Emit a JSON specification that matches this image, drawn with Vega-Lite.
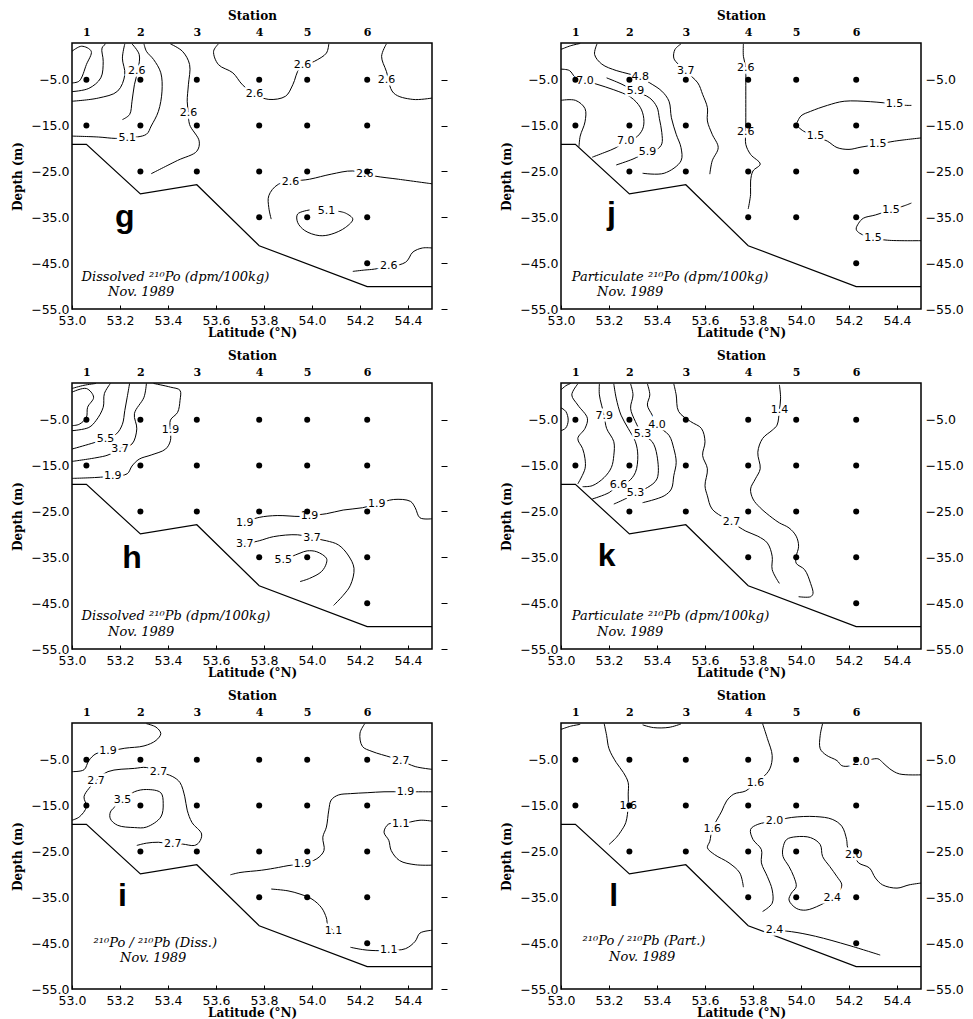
{
"$schema": "https://vega.github.io/schema/vega-lite/v6.json",
"background": "white",
"padding": {"left": 10, "top": 8, "right": 2, "bottom": 2},
"columns": 2,
"spacing": {"row": 74, "column": 129},
"bounds": "flush",
"datasets": {
"stations": [
{"lat":53.06,"depth":-5},{"lat":53.06,"depth":-15},
{"lat":53.285,"depth":-5},{"lat":53.285,"depth":-15},{"lat":53.285,"depth":-25},
{"lat":53.52,"depth":-5},{"lat":53.52,"depth":-15},{"lat":53.52,"depth":-25},
{"lat":53.78,"depth":-5},{"lat":53.78,"depth":-15},{"lat":53.78,"depth":-25},{"lat":53.78,"depth":-35},
{"lat":53.98,"depth":-5},{"lat":53.98,"depth":-15},{"lat":53.98,"depth":-25},{"lat":53.98,"depth":-35},
{"lat":54.23,"depth":-5},{"lat":54.23,"depth":-15},{"lat":54.23,"depth":-25},{"lat":54.23,"depth":-35},{"lat":54.23,"depth":-45}
],
"bottom": [
{"i":0,"lat":53.0,"depth":-19.1},{"i":1,"lat":53.06,"depth":-19.1},{"i":2,"lat":53.285,"depth":-29.9},{"i":3,"lat":53.52,"depth":-27.9},{"i":4,"lat":53.78,"depth":-41.2},{"i":5,"lat":54.23,"depth":-50.1},{"i":6,"lat":54.5,"depth":-50.1}
],
"contours": [
{"panel":"g","id":"g1","i":0,"lat":53.0,"depth":1.2},{"panel":"g","id":"g1","i":1,"lat":53.04,"depth":2.3},{"panel":"g","id":"g1","i":2,"lat":53.08,"depth":1.2},{"panel":"g","id":"g1","i":3,"lat":53.06,"depth":-1.7},{"panel":"g","id":"g1","i":4,"lat":53.03,"depth":-5.3},{"panel":"g","id":"g1","i":5,"lat":53.0,"depth":-5.7},
{"panel":"g","id":"g2","i":0,"lat":53.0,"depth":-7.6},{"panel":"g","id":"g2","i":1,"lat":53.07,"depth":-6.9},{"panel":"g","id":"g2","i":2,"lat":53.12,"depth":-4.6},{"panel":"g","id":"g2","i":3,"lat":53.13,"depth":-1.0},{"panel":"g","id":"g2","i":4,"lat":53.125,"depth":1.9},{"panel":"g","id":"g2","i":5,"lat":53.14,"depth":2.8},
{"panel":"g","id":"g3","i":0,"lat":53.0,"depth":-9.7},{"panel":"g","id":"g3","i":1,"lat":53.11,"depth":-9.0},{"panel":"g","id":"g3","i":2,"lat":53.19,"depth":-7.5},{"panel":"g","id":"g3","i":3,"lat":53.22,"depth":-3.9},{"panel":"g","id":"g3","i":4,"lat":53.21,"depth":-0.3},{"panel":"g","id":"g3","i":5,"lat":53.22,"depth":2.8},
{"panel":"g","id":"g4","i":0,"lat":53.25,"depth":2.8},{"panel":"g","id":"g4","i":1,"lat":53.28,"depth":0.5},{"panel":"g","id":"g4","i":2,"lat":53.275,"depth":-2.8},{"panel":"g","id":"g4","i":3,"lat":53.26,"depth":-6.1},{"panel":"g","id":"g4","i":4,"lat":53.25,"depth":-9.7},{"panel":"g","id":"g4","i":5,"lat":53.24,"depth":-12.6},{"panel":"g","id":"g4","i":6,"lat":53.21,"depth":-13.7},
{"panel":"g","id":"g5","i":0,"lat":53.0,"depth":-17.3},{"panel":"g","id":"g5","i":1,"lat":53.11,"depth":-17.5},{"panel":"g","id":"g5","i":2,"lat":53.18,"depth":-17.8},{"panel":"g","id":"g5","i":3,"lat":53.23,"depth":-17.7},{"panel":"g","id":"g5","i":4,"lat":53.31,"depth":-16.9},{"panel":"g","id":"g5","i":5,"lat":53.33,"depth":-15.1},{"panel":"g","id":"g5","i":6,"lat":53.36,"depth":-11.9},{"panel":"g","id":"g5","i":7,"lat":53.375,"depth":-7.5},{"panel":"g","id":"g5","i":8,"lat":53.37,"depth":-3.5},{"panel":"g","id":"g5","i":9,"lat":53.34,"depth":-0.6},{"panel":"g","id":"g5","i":10,"lat":53.31,"depth":1.2},{"panel":"g","id":"g5","i":11,"lat":53.30,"depth":2.8},
{"panel":"g","id":"g6","i":0,"lat":53.41,"depth":2.8},{"panel":"g","id":"g6","i":1,"lat":53.46,"depth":1.2},{"panel":"g","id":"g6","i":2,"lat":53.49,"depth":-1.7},{"panel":"g","id":"g6","i":3,"lat":53.485,"depth":-6.1},{"panel":"g","id":"g6","i":4,"lat":53.48,"depth":-9.7},{"panel":"g","id":"g6","i":5,"lat":53.485,"depth":-12.2},{"panel":"g","id":"g6","i":6,"lat":53.49,"depth":-14.8},{"panel":"g","id":"g6","i":7,"lat":53.53,"depth":-18.4},{"panel":"g","id":"g6","i":8,"lat":53.52,"depth":-20.6},{"panel":"g","id":"g6","i":9,"lat":53.44,"depth":-22.6},{"panel":"g","id":"g6","i":10,"lat":53.33,"depth":-25.5},
{"panel":"g","id":"g7","i":0,"lat":53.61,"depth":2.8},{"panel":"g","id":"g7","i":1,"lat":53.59,"depth":1.2},{"panel":"g","id":"g7","i":2,"lat":53.61,"depth":-1.7},{"panel":"g","id":"g7","i":3,"lat":53.67,"depth":-3.5},{"panel":"g","id":"g7","i":4,"lat":53.71,"depth":-6.1},{"panel":"g","id":"g7","i":5,"lat":53.76,"depth":-8.1},{"panel":"g","id":"g7","i":6,"lat":53.82,"depth":-9.3},{"panel":"g","id":"g7","i":7,"lat":53.89,"depth":-8.6},{"panel":"g","id":"g7","i":8,"lat":53.92,"depth":-6.1},{"panel":"g","id":"g7","i":9,"lat":53.95,"depth":-2.4},{"panel":"g","id":"g7","i":10,"lat":54.01,"depth":-1.0},{"panel":"g","id":"g7","i":11,"lat":54.06,"depth":0.8},{"panel":"g","id":"g7","i":12,"lat":54.07,"depth":2.8},
{"panel":"g","id":"g8","i":0,"lat":54.31,"depth":2.8},{"panel":"g","id":"g8","i":1,"lat":54.29,"depth":0.1},{"panel":"g","id":"g8","i":2,"lat":54.31,"depth":-3.2},{"panel":"g","id":"g8","i":3,"lat":54.34,"depth":-7.9},{"panel":"g","id":"g8","i":4,"lat":54.42,"depth":-9.3},{"panel":"g","id":"g8","i":5,"lat":54.5,"depth":-9.0},
{"panel":"g","id":"g9","i":0,"lat":53.83,"depth":-35.4},{"panel":"g","id":"g9","i":1,"lat":53.82,"depth":-32.9},{"panel":"g","id":"g9","i":2,"lat":53.82,"depth":-30.3},{"panel":"g","id":"g9","i":3,"lat":53.86,"depth":-27.8},{"panel":"g","id":"g9","i":4,"lat":53.99,"depth":-26.7},{"panel":"g","id":"g9","i":5,"lat":54.08,"depth":-25.6},{"panel":"g","id":"g9","i":6,"lat":54.17,"depth":-24.9},{"panel":"g","id":"g9","i":7,"lat":54.26,"depth":-26.0},{"panel":"g","id":"g9","i":8,"lat":54.36,"depth":-26.7},{"panel":"g","id":"g9","i":9,"lat":54.5,"depth":-27.7},
{"panel":"g","id":"g10","i":0,"lat":54.11,"depth":-33.7},{"panel":"g","id":"g10","i":1,"lat":54.14,"depth":-34.1},{"panel":"g","id":"g10","i":2,"lat":54.17,"depth":-35.4},{"panel":"g","id":"g10","i":3,"lat":54.14,"depth":-37.2},{"panel":"g","id":"g10","i":4,"lat":54.08,"depth":-38.7},{"panel":"g","id":"g10","i":5,"lat":54.03,"depth":-39.0},{"panel":"g","id":"g10","i":6,"lat":53.97,"depth":-37.9},{"panel":"g","id":"g10","i":7,"lat":53.94,"depth":-36.1},{"panel":"g","id":"g10","i":8,"lat":53.94,"depth":-34.3},{"panel":"g","id":"g10","i":9,"lat":53.99,"depth":-33.4},
{"panel":"g","id":"g11","i":0,"lat":54.17,"depth":-46.8},{"panel":"g","id":"g11","i":1,"lat":54.22,"depth":-46.5},{"panel":"g","id":"g11","i":2,"lat":54.26,"depth":-46.3},{"panel":"g","id":"g11","i":3,"lat":54.39,"depth":-44.8},{"panel":"g","id":"g11","i":4,"lat":54.42,"depth":-42.6},{"panel":"g","id":"g11","i":5,"lat":54.46,"depth":-41.7},{"panel":"g","id":"g11","i":6,"lat":54.5,"depth":-41.7},

{"panel":"j","id":"j1","i":0,"lat":53.0,"depth":1.6},{"panel":"j","id":"j1","i":1,"lat":53.04,"depth":2.4},{"panel":"j","id":"j1","i":2,"lat":53.08,"depth":2.9},
{"panel":"j","id":"j2","i":0,"lat":53.0,"depth":-2.7},{"panel":"j","id":"j2","i":1,"lat":53.035,"depth":-3.0},{"panel":"j","id":"j2","i":2,"lat":53.06,"depth":-4.5},{"panel":"j","id":"j2","i":3,"lat":53.10,"depth":-5.2},{"panel":"j","id":"j2","i":4,"lat":53.15,"depth":-6.0},{"panel":"j","id":"j2","i":5,"lat":53.22,"depth":-7.2},{"panel":"j","id":"j2","i":6,"lat":53.29,"depth":-8.8},{"panel":"j","id":"j2","i":7,"lat":53.33,"depth":-11.0},{"panel":"j","id":"j2","i":8,"lat":53.345,"depth":-13.5},{"panel":"j","id":"j2","i":9,"lat":53.34,"depth":-15.8},{"panel":"j","id":"j2","i":10,"lat":53.31,"depth":-17.7},{"panel":"j","id":"j2","i":11,"lat":53.27,"depth":-18.3},{"panel":"j","id":"j2","i":12,"lat":53.23,"depth":-19.8},{"panel":"j","id":"j2","i":13,"lat":53.18,"depth":-20.9},{"panel":"j","id":"j2","i":14,"lat":53.13,"depth":-21.9},
{"panel":"j","id":"j3","i":0,"lat":53.0,"depth":-9.5},{"panel":"j","id":"j3","i":1,"lat":53.06,"depth":-9.5},{"panel":"j","id":"j3","i":2,"lat":53.10,"depth":-11.3},{"panel":"j","id":"j3","i":3,"lat":53.10,"depth":-14.2},{"panel":"j","id":"j3","i":4,"lat":53.08,"depth":-17.3},{"panel":"j","id":"j3","i":5,"lat":53.075,"depth":-19.6},
{"panel":"j","id":"j5","i":0,"lat":53.15,"depth":2.8},{"panel":"j","id":"j5","i":1,"lat":53.14,"depth":0.5},{"panel":"j","id":"j5","i":2,"lat":53.17,"depth":-1.6},{"panel":"j","id":"j5","i":3,"lat":53.23,"depth":-3.0},{"panel":"j","id":"j5","i":4,"lat":53.28,"depth":-3.7},{"panel":"j","id":"j5","i":5,"lat":53.33,"depth":-4.5},{"panel":"j","id":"j5","i":6,"lat":53.37,"depth":-5.7},{"panel":"j","id":"j5","i":7,"lat":53.42,"depth":-7.5},{"panel":"j","id":"j5","i":8,"lat":53.45,"depth":-9.7},{"panel":"j","id":"j5","i":9,"lat":53.46,"depth":-13.3},{"panel":"j","id":"j5","i":10,"lat":53.48,"depth":-16.9},{"panel":"j","id":"j5","i":11,"lat":53.50,"depth":-19.8},{"panel":"j","id":"j5","i":12,"lat":53.50,"depth":-22.7},{"panel":"j","id":"j5","i":13,"lat":53.43,"depth":-25.4},{"panel":"j","id":"j5","i":14,"lat":53.34,"depth":-25.4},
{"panel":"j","id":"j6","i":0,"lat":53.19,"depth":-4.6},{"panel":"j","id":"j6","i":1,"lat":53.25,"depth":-5.9},{"panel":"j","id":"j6","i":2,"lat":53.31,"depth":-7.5},{"panel":"j","id":"j6","i":3,"lat":53.37,"depth":-9.0},{"panel":"j","id":"j6","i":4,"lat":53.40,"depth":-11.0},{"panel":"j","id":"j6","i":5,"lat":53.41,"depth":-13.5},{"panel":"j","id":"j6","i":6,"lat":53.42,"depth":-16.5},{"panel":"j","id":"j6","i":7,"lat":53.42,"depth":-19.0},{"panel":"j","id":"j6","i":8,"lat":53.40,"depth":-20.2},{"panel":"j","id":"j6","i":9,"lat":53.36,"depth":-20.8},{"panel":"j","id":"j6","i":10,"lat":53.30,"depth":-22.3},{"panel":"j","id":"j6","i":11,"lat":53.23,"depth":-23.6},
{"panel":"j","id":"j7","i":0,"lat":53.50,"depth":2.8},{"panel":"j","id":"j7","i":1,"lat":53.475,"depth":1.6},{"panel":"j","id":"j7","i":2,"lat":53.47,"depth":-0.3},{"panel":"j","id":"j7","i":3,"lat":53.49,"depth":-1.7},{"panel":"j","id":"j7","i":4,"lat":53.52,"depth":-3.2},{"panel":"j","id":"j7","i":5,"lat":53.57,"depth":-5.7},{"panel":"j","id":"j7","i":6,"lat":53.59,"depth":-8.2},{"panel":"j","id":"j7","i":7,"lat":53.61,"depth":-11.1},{"panel":"j","id":"j7","i":8,"lat":53.61,"depth":-14.0},{"panel":"j","id":"j7","i":9,"lat":53.63,"depth":-16.9},{"panel":"j","id":"j7","i":10,"lat":53.655,"depth":-19.8},{"panel":"j","id":"j7","i":11,"lat":53.63,"depth":-22.7},{"panel":"j","id":"j7","i":12,"lat":53.62,"depth":-25.6},
{"panel":"j","id":"j8","i":0,"lat":53.76,"depth":2.8},{"panel":"j","id":"j8","i":1,"lat":53.76,"depth":0.1},{"panel":"j","id":"j8","i":2,"lat":53.77,"depth":-2.4},{"panel":"j","id":"j8","i":3,"lat":53.77,"depth":-5.0},{"panel":"j","id":"j8","i":4,"lat":53.77,"depth":-7.5},{"panel":"j","id":"j8","i":5,"lat":53.77,"depth":-11.1},{"panel":"j","id":"j8","i":6,"lat":53.77,"depth":-13.3},{"panel":"j","id":"j8","i":7,"lat":53.77,"depth":-16.3},{"panel":"j","id":"j8","i":8,"lat":53.77,"depth":-19.1},{"panel":"j","id":"j8","i":9,"lat":53.79,"depth":-21.3},{"panel":"j","id":"j8","i":10,"lat":53.83,"depth":-23.4},{"panel":"j","id":"j8","i":11,"lat":53.80,"depth":-24.9},{"panel":"j","id":"j8","i":12,"lat":53.79,"depth":-27.1},{"panel":"j","id":"j8","i":13,"lat":53.79,"depth":-30.0},{"panel":"j","id":"j8","i":14,"lat":53.78,"depth":-33.2},
{"panel":"j","id":"j9","i":0,"lat":53.98,"depth":-14.8},{"panel":"j","id":"j9","i":1,"lat":54.0,"depth":-12.9},{"panel":"j","id":"j9","i":2,"lat":54.04,"depth":-11.9},{"panel":"j","id":"j9","i":3,"lat":54.11,"depth":-10.6},{"panel":"j","id":"j9","i":4,"lat":54.18,"depth":-9.7},{"panel":"j","id":"j9","i":5,"lat":54.29,"depth":-9.8},{"panel":"j","id":"j9","i":6,"lat":54.39,"depth":-10.3},{"panel":"j","id":"j9","i":7,"lat":54.44,"depth":-10.6},{"panel":"j","id":"j9","i":8,"lat":54.46,"depth":-10.6},
{"panel":"j","id":"j10","i":0,"lat":53.98,"depth":-14.9},{"panel":"j","id":"j10","i":1,"lat":54.01,"depth":-16.2},{"panel":"j","id":"j10","i":2,"lat":54.06,"depth":-17.3},{"panel":"j","id":"j10","i":3,"lat":54.11,"depth":-18.4},{"panel":"j","id":"j10","i":4,"lat":54.15,"depth":-19.8},{"panel":"j","id":"j10","i":5,"lat":54.20,"depth":-20.2},{"panel":"j","id":"j10","i":6,"lat":54.25,"depth":-19.7},{"panel":"j","id":"j10","i":7,"lat":54.32,"depth":-19.1},{"panel":"j","id":"j10","i":8,"lat":54.39,"depth":-18.4},{"panel":"j","id":"j10","i":9,"lat":54.5,"depth":-17.7},
{"panel":"j","id":"j11","i":0,"lat":54.46,"depth":-31.9},{"panel":"j","id":"j11","i":1,"lat":54.43,"depth":-32.5},{"panel":"j","id":"j11","i":2,"lat":54.375,"depth":-33.4},{"panel":"j","id":"j11","i":3,"lat":54.31,"depth":-34.5},{"panel":"j","id":"j11","i":4,"lat":54.26,"depth":-35.2},{"panel":"j","id":"j11","i":5,"lat":54.24,"depth":-36.3},{"panel":"j","id":"j11","i":6,"lat":54.23,"depth":-37.6},{"panel":"j","id":"j11","i":7,"lat":54.245,"depth":-38.5},{"panel":"j","id":"j11","i":8,"lat":54.30,"depth":-39.5},{"panel":"j","id":"j11","i":9,"lat":54.36,"depth":-40.0},{"panel":"j","id":"j11","i":10,"lat":54.5,"depth":-40.1},

{"panel":"h","id":"h1","i":0,"lat":53.0,"depth":1.8},{"panel":"h","id":"h1","i":1,"lat":53.05,"depth":2.5},{"panel":"h","id":"h1","i":2,"lat":53.10,"depth":2.9},
{"panel":"h","id":"h2","i":0,"lat":53.0,"depth":1.0},{"panel":"h","id":"h2","i":1,"lat":53.06,"depth":1.8},{"panel":"h","id":"h2","i":2,"lat":53.09,"depth":-0.1},{"panel":"h","id":"h2","i":3,"lat":53.065,"depth":-2.3},{"panel":"h","id":"h2","i":4,"lat":53.06,"depth":-4.5},{"panel":"h","id":"h2","i":5,"lat":53.03,"depth":-6.0},{"panel":"h","id":"h2","i":6,"lat":53.0,"depth":-6.3},
{"panel":"h","id":"h3","i":0,"lat":53.0,"depth":-7.4},{"panel":"h","id":"h3","i":1,"lat":53.07,"depth":-6.7},{"panel":"h","id":"h3","i":2,"lat":53.10,"depth":-5.2},{"panel":"h","id":"h3","i":3,"lat":53.13,"depth":-2.3},{"panel":"h","id":"h3","i":4,"lat":53.135,"depth":0.7},{"panel":"h","id":"h3","i":5,"lat":53.16,"depth":2.9},
{"panel":"h","id":"h4","i":0,"lat":53.0,"depth":-11.4},{"panel":"h","id":"h4","i":1,"lat":53.08,"depth":-10.2},{"panel":"h","id":"h4","i":2,"lat":53.14,"depth":-9.2},{"panel":"h","id":"h4","i":3,"lat":53.185,"depth":-8.1},{"panel":"h","id":"h4","i":4,"lat":53.21,"depth":-6.0},{"panel":"h","id":"h4","i":5,"lat":53.22,"depth":-3.0},{"panel":"h","id":"h4","i":6,"lat":53.23,"depth":-0.1},{"panel":"h","id":"h4","i":7,"lat":53.24,"depth":2.9},
{"panel":"h","id":"h5","i":0,"lat":53.0,"depth":-14.1},{"panel":"h","id":"h5","i":1,"lat":53.10,"depth":-13.3},{"panel":"h","id":"h5","i":2,"lat":53.15,"depth":-12.7},{"panel":"h","id":"h5","i":3,"lat":53.20,"depth":-11.3},{"panel":"h","id":"h5","i":4,"lat":53.25,"depth":-10.3},{"panel":"h","id":"h5","i":5,"lat":53.27,"depth":-7.0},{"panel":"h","id":"h5","i":6,"lat":53.26,"depth":-3.7},{"panel":"h","id":"h5","i":7,"lat":53.30,"depth":-0.1},{"panel":"h","id":"h5","i":8,"lat":53.31,"depth":2.9},
{"panel":"h","id":"h6","i":0,"lat":53.0,"depth":-17.8},{"panel":"h","id":"h6","i":1,"lat":53.10,"depth":-17.6},{"panel":"h","id":"h6","i":2,"lat":53.17,"depth":-17.3},{"panel":"h","id":"h6","i":3,"lat":53.23,"depth":-16.8},{"panel":"h","id":"h6","i":4,"lat":53.25,"depth":-15.1},{"panel":"h","id":"h6","i":5,"lat":53.28,"depth":-13.6},{"panel":"h","id":"h6","i":6,"lat":53.33,"depth":-12.7},{"panel":"h","id":"h6","i":7,"lat":53.39,"depth":-11.4},{"panel":"h","id":"h6","i":8,"lat":53.41,"depth":-9.6},{"panel":"h","id":"h6","i":9,"lat":53.41,"depth":-7.3},{"panel":"h","id":"h6","i":10,"lat":53.41,"depth":-5.1},{"panel":"h","id":"h6","i":11,"lat":53.44,"depth":-3.4},{"panel":"h","id":"h6","i":12,"lat":53.45,"depth":-0.8},{"panel":"h","id":"h6","i":13,"lat":53.45,"depth":1.4},{"panel":"h","id":"h6","i":14,"lat":53.41,"depth":2.1},{"panel":"h","id":"h6","i":15,"lat":53.34,"depth":2.9},
{"panel":"h","id":"h7","i":0,"lat":53.72,"depth":-27.3},{"panel":"h","id":"h7","i":1,"lat":53.78,"depth":-26.3},{"panel":"h","id":"h7","i":2,"lat":53.855,"depth":-25.9},{"panel":"h","id":"h7","i":3,"lat":53.95,"depth":-26.1},{"panel":"h","id":"h7","i":4,"lat":53.99,"depth":-25.9},{"panel":"h","id":"h7","i":5,"lat":54.06,"depth":-25.5},{"panel":"h","id":"h7","i":6,"lat":54.13,"depth":-24.7},{"panel":"h","id":"h7","i":7,"lat":54.21,"depth":-24.2},{"panel":"h","id":"h7","i":8,"lat":54.27,"depth":-23.4},{"panel":"h","id":"h7","i":9,"lat":54.34,"depth":-22.4},{"panel":"h","id":"h7","i":10,"lat":54.41,"depth":-22.8},{"panel":"h","id":"h7","i":11,"lat":54.43,"depth":-24.2},{"panel":"h","id":"h7","i":12,"lat":54.45,"depth":-26.4},{"panel":"h","id":"h7","i":13,"lat":54.5,"depth":-26.6},
{"panel":"h","id":"h8","i":0,"lat":53.72,"depth":-32.1},{"panel":"h","id":"h8","i":1,"lat":53.78,"depth":-31.4},{"panel":"h","id":"h8","i":2,"lat":53.84,"depth":-30.5},{"panel":"h","id":"h8","i":3,"lat":53.94,"depth":-30.1},{"panel":"h","id":"h8","i":4,"lat":54.0,"depth":-30.8},{"panel":"h","id":"h8","i":5,"lat":54.06,"depth":-31.4},{"panel":"h","id":"h8","i":6,"lat":54.11,"depth":-32.3},{"panel":"h","id":"h8","i":7,"lat":54.15,"depth":-34.5},{"panel":"h","id":"h8","i":8,"lat":54.175,"depth":-37.4},{"panel":"h","id":"h8","i":9,"lat":54.16,"depth":-41.1},{"panel":"h","id":"h8","i":10,"lat":54.13,"depth":-43.3},{"panel":"h","id":"h8","i":11,"lat":54.09,"depth":-45.5},
{"panel":"h","id":"h9","i":0,"lat":53.88,"depth":-35.6},{"panel":"h","id":"h9","i":1,"lat":53.95,"depth":-34.1},{"panel":"h","id":"h9","i":2,"lat":53.98,"depth":-33.6},{"panel":"h","id":"h9","i":3,"lat":54.02,"depth":-33.8},{"panel":"h","id":"h9","i":4,"lat":54.06,"depth":-35.2},{"panel":"h","id":"h9","i":5,"lat":54.06,"depth":-36.3},{"panel":"h","id":"h9","i":6,"lat":54.04,"depth":-38.1},{"panel":"h","id":"h9","i":7,"lat":53.99,"depth":-39.6},{"panel":"h","id":"h9","i":8,"lat":53.95,"depth":-40.3},

{"panel":"k","id":"k0","i":0,"lat":53.0,"depth":-2.4},{"panel":"k","id":"k0","i":1,"lat":53.02,"depth":-3.2},{"panel":"k","id":"k0","i":2,"lat":53.03,"depth":-5.1},{"panel":"k","id":"k0","i":3,"lat":53.02,"depth":-6.8},{"panel":"k","id":"k0","i":4,"lat":53.0,"depth":-7.4},
{"panel":"k","id":"kt","i":0,"lat":53.0,"depth":1.5},{"panel":"k","id":"kt","i":1,"lat":53.02,"depth":2.4},{"panel":"k","id":"kt","i":2,"lat":53.04,"depth":2.9},
{"panel":"k","id":"k1","i":0,"lat":53.07,"depth":2.8},{"panel":"k","id":"k1","i":1,"lat":53.045,"depth":0.4},{"panel":"k","id":"k1","i":2,"lat":53.07,"depth":-1.8},{"panel":"k","id":"k1","i":3,"lat":53.11,"depth":-4.7},{"panel":"k","id":"k1","i":4,"lat":53.10,"depth":-6.9},{"panel":"k","id":"k1","i":5,"lat":53.07,"depth":-9.1},{"panel":"k","id":"k1","i":6,"lat":53.09,"depth":-11.3},{"panel":"k","id":"k1","i":7,"lat":53.10,"depth":-13.5},{"panel":"k","id":"k1","i":8,"lat":53.10,"depth":-15.7},{"panel":"k","id":"k1","i":9,"lat":53.07,"depth":-19.0},
{"panel":"k","id":"k2","i":0,"lat":53.16,"depth":2.8},{"panel":"k","id":"k2","i":1,"lat":53.16,"depth":0.4},{"panel":"k","id":"k2","i":2,"lat":53.18,"depth":-4.1},{"panel":"k","id":"k2","i":3,"lat":53.19,"depth":-6.9},{"panel":"k","id":"k2","i":4,"lat":53.22,"depth":-9.8},{"panel":"k","id":"k2","i":5,"lat":53.22,"depth":-12.8},{"panel":"k","id":"k2","i":6,"lat":53.21,"depth":-15.4},{"panel":"k","id":"k2","i":7,"lat":53.18,"depth":-17.6},{"panel":"k","id":"k2","i":8,"lat":53.13,"depth":-19.4},{"panel":"k","id":"k2","i":9,"lat":53.09,"depth":-19.6},
{"panel":"k","id":"k3","i":0,"lat":53.13,"depth":-22.3},{"panel":"k","id":"k3","i":1,"lat":53.20,"depth":-20.9},{"panel":"k","id":"k3","i":2,"lat":53.24,"depth":-19.2},{"panel":"k","id":"k3","i":3,"lat":53.28,"depth":-18.5},{"panel":"k","id":"k3","i":4,"lat":53.31,"depth":-16.5},{"panel":"k","id":"k3","i":5,"lat":53.32,"depth":-12.8},{"panel":"k","id":"k3","i":6,"lat":53.31,"depth":-9.8},{"panel":"k","id":"k3","i":7,"lat":53.28,"depth":-6.9},{"panel":"k","id":"k3","i":8,"lat":53.25,"depth":-4.0},{"panel":"k","id":"k3","i":9,"lat":53.23,"depth":-0.3},{"panel":"k","id":"k3","i":10,"lat":53.22,"depth":2.8},
{"panel":"k","id":"k4","i":0,"lat":53.29,"depth":2.8},{"panel":"k","id":"k4","i":1,"lat":53.30,"depth":0.4},{"panel":"k","id":"k4","i":2,"lat":53.29,"depth":-2.5},{"panel":"k","id":"k4","i":3,"lat":53.31,"depth":-5.4},{"panel":"k","id":"k4","i":4,"lat":53.34,"depth":-8.2},{"panel":"k","id":"k4","i":5,"lat":53.38,"depth":-9.8},{"panel":"k","id":"k4","i":6,"lat":53.40,"depth":-12.8},{"panel":"k","id":"k4","i":7,"lat":53.40,"depth":-17.9},{"panel":"k","id":"k4","i":8,"lat":53.36,"depth":-19.8},{"panel":"k","id":"k4","i":9,"lat":53.31,"depth":-20.9},{"panel":"k","id":"k4","i":10,"lat":53.27,"depth":-22.2},{"panel":"k","id":"k4","i":11,"lat":53.22,"depth":-23.4},
{"panel":"k","id":"k5","i":0,"lat":53.36,"depth":2.8},{"panel":"k","id":"k5","i":1,"lat":53.37,"depth":0.4},{"panel":"k","id":"k5","i":2,"lat":53.36,"depth":-1.8},{"panel":"k","id":"k5","i":3,"lat":53.38,"depth":-4.0},{"panel":"k","id":"k5","i":4,"lat":53.40,"depth":-6.2},{"panel":"k","id":"k5","i":5,"lat":53.45,"depth":-8.4},{"panel":"k","id":"k5","i":6,"lat":53.47,"depth":-11.3},{"panel":"k","id":"k5","i":7,"lat":53.48,"depth":-14.3},{"panel":"k","id":"k5","i":8,"lat":53.47,"depth":-17.2},{"panel":"k","id":"k5","i":9,"lat":53.46,"depth":-20.1},{"panel":"k","id":"k5","i":10,"lat":53.43,"depth":-21.6},{"panel":"k","id":"k5","i":11,"lat":53.34,"depth":-23.1},
{"panel":"k","id":"k6","i":0,"lat":53.47,"depth":2.8},{"panel":"k","id":"k6","i":1,"lat":53.48,"depth":0.4},{"panel":"k","id":"k6","i":2,"lat":53.49,"depth":-3.2},{"panel":"k","id":"k6","i":3,"lat":53.54,"depth":-5.4},{"panel":"k","id":"k6","i":4,"lat":53.585,"depth":-6.9},{"panel":"k","id":"k6","i":5,"lat":53.60,"depth":-9.8},{"panel":"k","id":"k6","i":6,"lat":53.59,"depth":-12.8},{"panel":"k","id":"k6","i":7,"lat":53.61,"depth":-15.7},{"panel":"k","id":"k6","i":8,"lat":53.60,"depth":-19.4},{"panel":"k","id":"k6","i":9,"lat":53.61,"depth":-21.6},{"panel":"k","id":"k6","i":10,"lat":53.63,"depth":-24.5},{"panel":"k","id":"k6","i":11,"lat":53.71,"depth":-27.3},{"panel":"k","id":"k6","i":12,"lat":53.77,"depth":-29.3},{"panel":"k","id":"k6","i":13,"lat":53.82,"depth":-30.4},{"panel":"k","id":"k6","i":14,"lat":53.86,"depth":-31.9},{"panel":"k","id":"k6","i":15,"lat":53.88,"depth":-34.8},{"panel":"k","id":"k6","i":16,"lat":53.88,"depth":-37.7},{"panel":"k","id":"k6","i":17,"lat":53.91,"depth":-40.7},
{"panel":"k","id":"k7","i":0,"lat":53.91,"depth":2.6},{"panel":"k","id":"k7","i":1,"lat":53.915,"depth":-0.3},{"panel":"k","id":"k7","i":2,"lat":53.91,"depth":-2.9},{"panel":"k","id":"k7","i":3,"lat":53.90,"depth":-6.2},{"panel":"k","id":"k7","i":4,"lat":53.88,"depth":-7.3},{"panel":"k","id":"k7","i":5,"lat":53.84,"depth":-9.1},{"panel":"k","id":"k7","i":6,"lat":53.82,"depth":-12.1},{"panel":"k","id":"k7","i":7,"lat":53.83,"depth":-15.7},{"panel":"k","id":"k7","i":8,"lat":53.81,"depth":-17.9},{"panel":"k","id":"k7","i":9,"lat":53.79,"depth":-20.1},{"panel":"k","id":"k7","i":10,"lat":53.80,"depth":-22.3},{"panel":"k","id":"k7","i":11,"lat":53.83,"depth":-24.2},{"panel":"k","id":"k7","i":12,"lat":53.88,"depth":-26.4},{"panel":"k","id":"k7","i":13,"lat":53.91,"depth":-27.5},{"panel":"k","id":"k7","i":14,"lat":53.95,"depth":-28.6},{"panel":"k","id":"k7","i":15,"lat":53.98,"depth":-30.4},{"panel":"k","id":"k7","i":16,"lat":53.99,"depth":-32.6},{"panel":"k","id":"k7","i":17,"lat":53.98,"depth":-34.8},{"panel":"k","id":"k7","i":18,"lat":53.98,"depth":-36.3},{"panel":"k","id":"k7","i":19,"lat":54.015,"depth":-37.7},{"panel":"k","id":"k7","i":20,"lat":54.04,"depth":-40.7},{"panel":"k","id":"k7","i":21,"lat":54.05,"depth":-42.9},{"panel":"k","id":"k7","i":22,"lat":54.04,"depth":-43.6},{"panel":"k","id":"k7","i":23,"lat":53.99,"depth":-43.6},

{"panel":"i","id":"i1","i":0,"lat":53.0,"depth":-7.6},{"panel":"i","id":"i1","i":1,"lat":53.05,"depth":-7.2},{"panel":"i","id":"i1","i":2,"lat":53.07,"depth":-5.2},{"panel":"i","id":"i1","i":3,"lat":53.10,"depth":-3.7},{"panel":"i","id":"i1","i":4,"lat":53.15,"depth":-3.2},{"panel":"i","id":"i1","i":5,"lat":53.22,"depth":-2.5},{"panel":"i","id":"i1","i":6,"lat":53.30,"depth":-2.0},{"panel":"i","id":"i1","i":7,"lat":53.35,"depth":-0.8},{"panel":"i","id":"i1","i":8,"lat":53.37,"depth":0.7},{"panel":"i","id":"i1","i":9,"lat":53.35,"depth":2.1},{"panel":"i","id":"i1","i":10,"lat":53.31,"depth":2.85},
{"panel":"i","id":"i2","i":0,"lat":53.0,"depth":-18.2},{"panel":"i","id":"i2","i":1,"lat":53.03,"depth":-17.5},{"panel":"i","id":"i2","i":2,"lat":53.06,"depth":-15.3},{"panel":"i","id":"i2","i":3,"lat":53.05,"depth":-13.1},{"panel":"i","id":"i2","i":4,"lat":53.07,"depth":-11.3},{"panel":"i","id":"i2","i":5,"lat":53.10,"depth":-9.6},{"panel":"i","id":"i2","i":6,"lat":53.15,"depth":-7.6},{"panel":"i","id":"i2","i":7,"lat":53.26,"depth":-6.9},{"panel":"i","id":"i2","i":8,"lat":53.31,"depth":-6.7},{"panel":"i","id":"i2","i":9,"lat":53.36,"depth":-7.6},{"panel":"i","id":"i2","i":10,"lat":53.42,"depth":-8.7},{"panel":"i","id":"i2","i":11,"lat":53.45,"depth":-10.0},{"panel":"i","id":"i2","i":12,"lat":53.47,"depth":-13.1},{"panel":"i","id":"i2","i":13,"lat":53.48,"depth":-16.0},{"panel":"i","id":"i2","i":14,"lat":53.50,"depth":-18.7},{"panel":"i","id":"i2","i":15,"lat":53.54,"depth":-21.2},{"panel":"i","id":"i2","i":16,"lat":53.53,"depth":-23.0},{"panel":"i","id":"i2","i":17,"lat":53.51,"depth":-23.7},{"panel":"i","id":"i2","i":18,"lat":53.46,"depth":-23.4},{"panel":"i","id":"i2","i":19,"lat":53.42,"depth":-23.4},{"panel":"i","id":"i2","i":20,"lat":53.36,"depth":-23.0},{"panel":"i","id":"i2","i":21,"lat":53.31,"depth":-23.2},{"panel":"i","id":"i2","i":22,"lat":53.27,"depth":-23.7},
{"panel":"i","id":"i3","i":0,"lat":53.21,"depth":-13.8},{"panel":"i","id":"i3","i":1,"lat":53.26,"depth":-12.0},{"panel":"i","id":"i3","i":2,"lat":53.31,"depth":-11.5},{"panel":"i","id":"i3","i":3,"lat":53.37,"depth":-12.2},{"panel":"i","id":"i3","i":4,"lat":53.38,"depth":-14.6},{"panel":"i","id":"i3","i":5,"lat":53.37,"depth":-17.5},{"panel":"i","id":"i3","i":6,"lat":53.31,"depth":-19.7},{"panel":"i","id":"i3","i":7,"lat":53.26,"depth":-19.8},{"panel":"i","id":"i3","i":8,"lat":53.19,"depth":-19.3},{"panel":"i","id":"i3","i":9,"lat":53.16,"depth":-17.9},{"panel":"i","id":"i3","i":10,"lat":53.16,"depth":-16.4},{"panel":"i","id":"i3","i":11,"lat":53.18,"depth":-15.2},
{"panel":"i","id":"i4","i":0,"lat":54.22,"depth":2.85},{"panel":"i","id":"i4","i":1,"lat":54.20,"depth":0.8},{"panel":"i","id":"i4","i":2,"lat":54.21,"depth":-2.1},{"panel":"i","id":"i4","i":3,"lat":54.25,"depth":-3.2},{"panel":"i","id":"i4","i":4,"lat":54.33,"depth":-4.5},{"panel":"i","id":"i4","i":5,"lat":54.37,"depth":-5.2},{"panel":"i","id":"i4","i":6,"lat":54.43,"depth":-6.5},{"panel":"i","id":"i4","i":7,"lat":54.5,"depth":-7.1},
{"panel":"i","id":"i5","i":0,"lat":53.66,"depth":-30.1},{"panel":"i","id":"i5","i":1,"lat":53.70,"depth":-29.6},{"panel":"i","id":"i5","i":2,"lat":53.79,"depth":-29.1},{"panel":"i","id":"i5","i":3,"lat":53.86,"depth":-28.5},{"panel":"i","id":"i5","i":4,"lat":53.90,"depth":-28.1},{"panel":"i","id":"i5","i":5,"lat":53.96,"depth":-27.7},{"panel":"i","id":"i5","i":6,"lat":54.02,"depth":-26.6},{"panel":"i","id":"i5","i":7,"lat":54.05,"depth":-24.8},{"panel":"i","id":"i5","i":8,"lat":54.045,"depth":-21.9},{"panel":"i","id":"i5","i":9,"lat":54.06,"depth":-19.7},{"panel":"i","id":"i5","i":10,"lat":54.07,"depth":-16.0},{"panel":"i","id":"i5","i":11,"lat":54.08,"depth":-13.8},{"panel":"i","id":"i5","i":12,"lat":54.11,"depth":-12.7},{"panel":"i","id":"i5","i":13,"lat":54.16,"depth":-12.4},{"panel":"i","id":"i5","i":14,"lat":54.23,"depth":-12.2},{"panel":"i","id":"i5","i":15,"lat":54.30,"depth":-12.0},{"panel":"i","id":"i5","i":16,"lat":54.39,"depth":-12.0},{"panel":"i","id":"i5","i":17,"lat":54.46,"depth":-12.0},{"panel":"i","id":"i5","i":18,"lat":54.5,"depth":-12.0},
{"panel":"i","id":"i6","i":0,"lat":54.5,"depth":-18.4},{"panel":"i","id":"i6","i":1,"lat":54.45,"depth":-18.2},{"panel":"i","id":"i6","i":2,"lat":54.37,"depth":-19.0},{"panel":"i","id":"i6","i":3,"lat":54.32,"depth":-19.0},{"panel":"i","id":"i6","i":4,"lat":54.30,"depth":-20.8},{"panel":"i","id":"i6","i":5,"lat":54.32,"depth":-22.6},{"panel":"i","id":"i6","i":6,"lat":54.33,"depth":-24.8},{"panel":"i","id":"i6","i":7,"lat":54.365,"depth":-27.0},{"panel":"i","id":"i6","i":8,"lat":54.43,"depth":-27.9},{"panel":"i","id":"i6","i":9,"lat":54.5,"depth":-28.0},
{"panel":"i","id":"i7","i":0,"lat":53.83,"depth":-33.2},{"panel":"i","id":"i7","i":1,"lat":53.90,"depth":-33.6},{"panel":"i","id":"i7","i":2,"lat":53.95,"depth":-34.3},{"panel":"i","id":"i7","i":3,"lat":54.0,"depth":-35.4},{"panel":"i","id":"i7","i":4,"lat":54.04,"depth":-37.3},{"panel":"i","id":"i7","i":5,"lat":54.06,"depth":-39.5},{"panel":"i","id":"i7","i":6,"lat":54.065,"depth":-40.8},{"panel":"i","id":"i7","i":7,"lat":54.09,"depth":-42.4},
{"panel":"i","id":"i8","i":0,"lat":54.16,"depth":-45.9},{"panel":"i","id":"i8","i":1,"lat":54.21,"depth":-46.4},{"panel":"i","id":"i8","i":2,"lat":54.25,"depth":-46.6},{"panel":"i","id":"i8","i":3,"lat":54.32,"depth":-46.6},{"panel":"i","id":"i8","i":4,"lat":54.39,"depth":-46.2},{"panel":"i","id":"i8","i":5,"lat":54.43,"depth":-44.6},{"panel":"i","id":"i8","i":6,"lat":54.45,"depth":-42.8},{"panel":"i","id":"i8","i":7,"lat":54.5,"depth":-42.2},

{"panel":"l","id":"l1","i":0,"lat":53.0,"depth":1.6},{"panel":"l","id":"l1","i":1,"lat":53.04,"depth":2.3},{"panel":"l","id":"l1","i":2,"lat":53.08,"depth":2.7},
{"panel":"l","id":"l2","i":0,"lat":53.18,"depth":2.85},{"panel":"l","id":"l2","i":1,"lat":53.19,"depth":0.3},{"panel":"l","id":"l2","i":2,"lat":53.20,"depth":-2.6},{"panel":"l","id":"l2","i":3,"lat":53.23,"depth":-5.6},{"panel":"l","id":"l2","i":4,"lat":53.26,"depth":-7.8},{"panel":"l","id":"l2","i":5,"lat":53.28,"depth":-10.0},{"panel":"l","id":"l2","i":6,"lat":53.28,"depth":-12.5},{"panel":"l","id":"l2","i":7,"lat":53.28,"depth":-15.1},{"panel":"l","id":"l2","i":8,"lat":53.27,"depth":-18.7},{"panel":"l","id":"l2","i":9,"lat":53.25,"depth":-20.6},{"panel":"l","id":"l2","i":10,"lat":53.23,"depth":-22.0},{"panel":"l","id":"l2","i":11,"lat":53.20,"depth":-23.5},
{"panel":"l","id":"l3","i":0,"lat":53.34,"depth":2.6},{"panel":"l","id":"l3","i":1,"lat":53.385,"depth":2.0},{"panel":"l","id":"l3","i":2,"lat":53.45,"depth":2.05},{"panel":"l","id":"l3","i":3,"lat":53.50,"depth":2.8},
{"panel":"l","id":"l4","i":0,"lat":53.84,"depth":2.85},{"panel":"l","id":"l4","i":1,"lat":53.86,"depth":-0.4},{"panel":"l","id":"l4","i":2,"lat":53.88,"depth":-4.1},{"panel":"l","id":"l4","i":3,"lat":53.87,"depth":-7.0},{"panel":"l","id":"l4","i":4,"lat":53.84,"depth":-8.9},{"panel":"l","id":"l4","i":5,"lat":53.81,"depth":-10.0},{"panel":"l","id":"l4","i":6,"lat":53.77,"depth":-11.8},{"panel":"l","id":"l4","i":7,"lat":53.72,"depth":-12.5},{"panel":"l","id":"l4","i":8,"lat":53.69,"depth":-14.0},{"panel":"l","id":"l4","i":9,"lat":53.67,"depth":-16.2},{"panel":"l","id":"l4","i":10,"lat":53.63,"depth":-20.2},{"panel":"l","id":"l4","i":11,"lat":53.62,"depth":-22.8},{"panel":"l","id":"l4","i":12,"lat":53.61,"depth":-24.2},{"panel":"l","id":"l4","i":13,"lat":53.64,"depth":-25.7},{"panel":"l","id":"l4","i":14,"lat":53.70,"depth":-27.5},{"panel":"l","id":"l4","i":15,"lat":53.745,"depth":-29.7},{"panel":"l","id":"l4","i":16,"lat":53.76,"depth":-32.8},
{"panel":"l","id":"l5","i":0,"lat":53.84,"depth":-38.1},{"panel":"l","id":"l5","i":1,"lat":53.88,"depth":-36.3},{"panel":"l","id":"l5","i":2,"lat":53.88,"depth":-33.4},{"panel":"l","id":"l5","i":3,"lat":53.86,"depth":-30.5},{"panel":"l","id":"l5","i":4,"lat":53.835,"depth":-27.5},{"panel":"l","id":"l5","i":5,"lat":53.835,"depth":-24.6},{"panel":"l","id":"l5","i":6,"lat":53.80,"depth":-22.4},{"panel":"l","id":"l5","i":7,"lat":53.79,"depth":-20.2},{"panel":"l","id":"l5","i":8,"lat":53.82,"depth":-19.1},{"panel":"l","id":"l5","i":9,"lat":53.89,"depth":-18.4},{"panel":"l","id":"l5","i":10,"lat":53.96,"depth":-17.6},{"panel":"l","id":"l5","i":11,"lat":54.06,"depth":-17.4},{"panel":"l","id":"l5","i":12,"lat":54.13,"depth":-18.0},{"panel":"l","id":"l5","i":13,"lat":54.17,"depth":-19.5},{"panel":"l","id":"l5","i":14,"lat":54.19,"depth":-22.4},{"panel":"l","id":"l5","i":15,"lat":54.195,"depth":-24.2},{"panel":"l","id":"l5","i":16,"lat":54.22,"depth":-25.7},{"panel":"l","id":"l5","i":17,"lat":54.24,"depth":-27.5},{"panel":"l","id":"l5","i":18,"lat":54.285,"depth":-28.6},{"panel":"l","id":"l5","i":19,"lat":54.31,"depth":-30.8},{"panel":"l","id":"l5","i":20,"lat":54.34,"depth":-32.3},{"panel":"l","id":"l5","i":21,"lat":54.40,"depth":-33.0},{"panel":"l","id":"l5","i":22,"lat":54.45,"depth":-32.3},{"panel":"l","id":"l5","i":23,"lat":54.5,"depth":-31.9},
{"panel":"l","id":"l6","i":0,"lat":54.13,"depth":-35.2},{"panel":"l","id":"l6","i":1,"lat":54.08,"depth":-36.7},{"panel":"l","id":"l6","i":2,"lat":54.02,"depth":-37.8},{"panel":"l","id":"l6","i":3,"lat":53.98,"depth":-37.4},{"panel":"l","id":"l6","i":4,"lat":53.95,"depth":-35.6},{"panel":"l","id":"l6","i":5,"lat":53.96,"depth":-34.1},{"panel":"l","id":"l6","i":6,"lat":53.98,"depth":-32.7},{"panel":"l","id":"l6","i":7,"lat":53.97,"depth":-30.5},{"panel":"l","id":"l6","i":8,"lat":53.95,"depth":-28.3},{"panel":"l","id":"l6","i":9,"lat":53.925,"depth":-26.1},{"panel":"l","id":"l6","i":10,"lat":53.925,"depth":-24.2},{"panel":"l","id":"l6","i":11,"lat":53.94,"depth":-22.4},{"panel":"l","id":"l6","i":12,"lat":53.98,"depth":-21.8},{"panel":"l","id":"l6","i":13,"lat":54.04,"depth":-22.0},{"panel":"l","id":"l6","i":14,"lat":54.08,"depth":-23.5},{"panel":"l","id":"l6","i":15,"lat":54.09,"depth":-26.1},{"panel":"l","id":"l6","i":16,"lat":54.12,"depth":-28.3},{"panel":"l","id":"l6","i":17,"lat":54.15,"depth":-30.5},{"panel":"l","id":"l6","i":18,"lat":54.17,"depth":-32.3},{"panel":"l","id":"l6","i":19,"lat":54.155,"depth":-34.0},{"panel":"l","id":"l6","i":20,"lat":54.13,"depth":-35.2},
{"panel":"l","id":"l7","i":0,"lat":54.09,"depth":2.85},{"panel":"l","id":"l7","i":1,"lat":54.08,"depth":0.3},{"panel":"l","id":"l7","i":2,"lat":54.08,"depth":-2.6},{"panel":"l","id":"l7","i":3,"lat":54.105,"depth":-4.0},{"panel":"l","id":"l7","i":4,"lat":54.15,"depth":-5.2},{"panel":"l","id":"l7","i":5,"lat":54.17,"depth":-6.3},{"panel":"l","id":"l7","i":6,"lat":54.20,"depth":-6.4},{"panel":"l","id":"l7","i":7,"lat":54.25,"depth":-5.6},{"panel":"l","id":"l7","i":8,"lat":54.32,"depth":-4.8},{"panel":"l","id":"l7","i":9,"lat":54.34,"depth":-5.6},{"panel":"l","id":"l7","i":10,"lat":54.37,"depth":-7.0},{"panel":"l","id":"l7","i":11,"lat":54.41,"depth":-8.1},{"panel":"l","id":"l7","i":12,"lat":54.5,"depth":-8.3},
{"panel":"l","id":"l8","i":0,"lat":53.89,"depth":-42.2},{"panel":"l","id":"l8","i":1,"lat":53.96,"depth":-42.5},{"panel":"l","id":"l8","i":2,"lat":54.06,"depth":-43.5},{"panel":"l","id":"l8","i":3,"lat":54.20,"depth":-45.5},{"panel":"l","id":"l8","i":4,"lat":54.33,"depth":-47.6}
],
"labels": [
{"panel":"g","lat":53.27,"depth":-3.2,"text":"2.6"},{"panel":"g","lat":53.23,"depth":-17.7,"text":"5.1"},{"panel":"g","lat":53.485,"depth":-12.2,"text":"2.6"},{"panel":"g","lat":53.76,"depth":-8.2,"text":"2.6"},{"panel":"g","lat":53.96,"depth":-1.9,"text":"2.6"},{"panel":"g","lat":54.31,"depth":-5.0,"text":"2.6"},{"panel":"g","lat":53.91,"depth":-27.4,"text":"2.6"},{"panel":"g","lat":54.22,"depth":-25.5,"text":"2.6"},{"panel":"g","lat":54.06,"depth":-33.6,"text":"5.1"},{"panel":"g","lat":54.32,"depth":-45.6,"text":"2.6"},
{"panel":"j","lat":53.10,"depth":-5.2,"text":"7.0"},{"panel":"j","lat":53.27,"depth":-18.3,"text":"7.0"},{"panel":"j","lat":53.33,"depth":-4.5,"text":"4.8"},{"panel":"j","lat":53.31,"depth":-7.5,"text":"5.9"},{"panel":"j","lat":53.36,"depth":-20.8,"text":"5.9"},{"panel":"j","lat":53.52,"depth":-3.2,"text":"3.7"},{"panel":"j","lat":53.77,"depth":-2.4,"text":"2.6"},{"panel":"j","lat":53.77,"depth":-16.3,"text":"2.6"},{"panel":"j","lat":54.39,"depth":-10.3,"text":"1.5"},{"panel":"j","lat":54.06,"depth":-17.3,"text":"1.5"},{"panel":"j","lat":54.32,"depth":-19.1,"text":"1.5"},{"panel":"j","lat":54.375,"depth":-33.4,"text":"1.5"},{"panel":"j","lat":54.30,"depth":-39.5,"text":"1.5"},
{"panel":"h","lat":53.14,"depth":-9.2,"text":"5.5"},{"panel":"h","lat":53.20,"depth":-11.3,"text":"3.7"},{"panel":"h","lat":53.17,"depth":-17.3,"text":"1.9"},{"panel":"h","lat":53.41,"depth":-7.3,"text":"1.9"},{"panel":"h","lat":53.72,"depth":-27.5,"text":"1.9"},{"panel":"h","lat":53.99,"depth":-25.9,"text":"1.9"},{"panel":"h","lat":54.27,"depth":-23.4,"text":"1.9"},{"panel":"h","lat":53.72,"depth":-32.1,"text":"3.7"},{"panel":"h","lat":54.0,"depth":-30.8,"text":"3.7"},{"panel":"h","lat":53.88,"depth":-35.6,"text":"5.5"},
{"panel":"k","lat":53.18,"depth":-4.1,"text":"7.9"},{"panel":"k","lat":53.24,"depth":-19.2,"text":"6.6"},{"panel":"k","lat":53.34,"depth":-8.2,"text":"5.3"},{"panel":"k","lat":53.31,"depth":-20.9,"text":"5.3"},{"panel":"k","lat":53.40,"depth":-6.2,"text":"4.0"},{"panel":"k","lat":53.71,"depth":-27.3,"text":"2.7"},{"panel":"k","lat":53.91,"depth":-2.9,"text":"1.4"},
{"panel":"i","lat":53.15,"depth":-3.2,"text":"1.9"},{"panel":"i","lat":53.10,"depth":-9.6,"text":"2.7"},{"panel":"i","lat":53.36,"depth":-7.6,"text":"2.7"},{"panel":"i","lat":53.42,"depth":-23.4,"text":"2.7"},{"panel":"i","lat":53.21,"depth":-13.8,"text":"3.5"},{"panel":"i","lat":54.37,"depth":-5.2,"text":"2.7"},{"panel":"i","lat":53.96,"depth":-27.7,"text":"1.9"},{"panel":"i","lat":54.39,"depth":-12.0,"text":"1.9"},{"panel":"i","lat":54.37,"depth":-19.0,"text":"1.1"},{"panel":"i","lat":54.09,"depth":-42.4,"text":"1.1"},{"panel":"i","lat":54.32,"depth":-46.6,"text":"1.1"},
{"panel":"l","lat":53.28,"depth":-15.1,"text":"1.6"},{"panel":"l","lat":53.81,"depth":-10.0,"text":"1.6"},{"panel":"l","lat":53.63,"depth":-20.2,"text":"1.6"},{"panel":"l","lat":53.89,"depth":-18.4,"text":"2.0"},{"panel":"l","lat":54.22,"depth":-25.7,"text":"2.0"},{"panel":"l","lat":54.13,"depth":-35.2,"text":"2.4"},{"panel":"l","lat":54.25,"depth":-5.6,"text":"2.0"},{"panel":"l","lat":53.89,"depth":-42.2,"text":"2.4"}
],
"notes": [
{"panel":"g","kind":"letter","lat":53.22,"depth":-35.0,"text":"g"},
{"panel":"g","kind":"caption","lat":53.04,"depth":-48.0,"text":"Dissolved ²¹⁰Po (dpm/100kg)"},
{"panel":"g","kind":"caption","lat":53.15,"depth":-51.4,"text":"Nov. 1989"},
{"panel":"j","kind":"letter","lat":53.21,"depth":-34.3,"text":"j"},
{"panel":"j","kind":"caption","lat":53.045,"depth":-48.0,"text":"Particulate ²¹⁰Po (dpm/100kg)"},
{"panel":"j","kind":"caption","lat":53.15,"depth":-51.4,"text":"Nov. 1989"},
{"panel":"h","kind":"letter","lat":53.25,"depth":-35.2,"text":"h"},
{"panel":"h","kind":"caption","lat":53.04,"depth":-47.8,"text":"Dissolved ²¹⁰Pb (dpm/100kg)"},
{"panel":"h","kind":"caption","lat":53.15,"depth":-51.2,"text":"Nov. 1989"},
{"panel":"k","kind":"letter","lat":53.19,"depth":-34.8,"text":"k"},
{"panel":"k","kind":"caption","lat":53.045,"depth":-47.8,"text":"Particulate ²¹⁰Pb (dpm/100kg)"},
{"panel":"k","kind":"caption","lat":53.15,"depth":-51.2,"text":"Nov. 1989"},
{"panel":"i","kind":"letter","lat":53.21,"depth":-34.7,"text":"i"},
{"panel":"i","kind":"caption","lat":53.09,"depth":-44.9,"text":"²¹⁰Po / ²¹⁰Pb (Diss.)"},
{"panel":"i","kind":"caption","lat":53.20,"depth":-48.3,"text":"Nov. 1989"},
{"panel":"l","kind":"letter","lat":53.22,"depth":-34.8,"text":"l"},
{"panel":"l","kind":"caption","lat":53.09,"depth":-44.6,"text":"²¹⁰Po / ²¹⁰Pb (Part.)"},
{"panel":"l","kind":"caption","lat":53.20,"depth":-48.0,"text":"Nov. 1989"}
]
},
"concat": [
{"width":360,"height":266,"resolve":{"axis":{"x":"independent","y":"independent"}},"layer":[
{"data":{"name":"bottom"},"mark":{"type":"line","color":"black","strokeWidth":1.2},"encoding":{"x":{"field":"lat","type":"quantitative","scale":{"domain":[53,54.5],"nice":false,"zero":false},"axis":{"orient":"bottom","values":[53,53.2,53.4,53.6,53.8,54,54.2,54.4],"format":".1f","title":"Latitude (°N)","tickSize":-4,"labelPadding":9,"titlePadding":1}},"y":{"field":"depth","type":"quantitative","scale":{"domain":[-55,3],"nice":false,"zero":false},"axis":{"orient":"left","values":[-5,-15,-25,-35,-45,-55],"format":".1f","ticks":false,"labelPadding":3,"title":"Depth (m)","titlePadding":6}},"order":{"field":"i","type":"quantitative"}}},
{"data":{"name":"contours"},"transform":[{"filter":"datum.panel === 'g'"}],"mark":{"type":"line","color":"black","strokeWidth":1,"interpolate":"catmull-rom"},"encoding":{"x":{"field":"lat","type":"quantitative","axis":null},"y":{"field":"depth","type":"quantitative","axis":null},"detail":{"field":"id"},"order":{"field":"i","type":"quantitative"}}},
{"data":{"name":"labels"},"transform":[{"filter":"datum.panel === 'g'"}],"mark":{"type":"text","font":"DejaVu Sans","fontSize":11,"fill":"white","stroke":"white","strokeWidth":5},"encoding":{"x":{"field":"lat","type":"quantitative","axis":null},"y":{"field":"depth","type":"quantitative","axis":null},"text":{"field":"text"}}},
{"data":{"name":"labels"},"transform":[{"filter":"datum.panel === 'g'"}],"mark":{"type":"text","font":"DejaVu Sans","fontSize":11,"color":"black"},"encoding":{"x":{"field":"lat","type":"quantitative","axis":null},"y":{"field":"depth","type":"quantitative","axis":null},"text":{"field":"text"}}},
{"data":{"name":"notes"},"transform":[{"filter":"datum.panel === 'g' && datum.kind === 'letter'"}],"mark":{"type":"text","font":"Liberation Sans","fontWeight":"bold","fontSize":32,"color":"black"},"encoding":{"x":{"field":"lat","type":"quantitative","axis":null},"y":{"field":"depth","type":"quantitative","axis":null},"text":{"field":"text"}}},
{"data":{"name":"notes"},"transform":[{"filter":"datum.panel === 'g' && datum.kind === 'caption'"}],"mark":{"type":"text","font":"DejaVu Serif","fontStyle":"italic","fontSize":13,"align":"left","color":"black"},"encoding":{"x":{"field":"lat","type":"quantitative","axis":null},"y":{"field":"depth","type":"quantitative","axis":null},"text":{"field":"text"}}},
{"data":{"name":"stations"},"mark":{"type":"circle","color":"black","opacity":1,"size":36},"encoding":{"x":{"field":"lat","type":"quantitative","axis":{"orient":"top","values":[53.06,53.285,53.52,53.78,53.98,54.23],"labelExpr":"datum.value < 53.1 ? '1' : datum.value < 53.4 ? '2' : datum.value < 53.65 ? '3' : datum.value < 53.9 ? '4' : datum.value < 54.1 ? '5' : '6'","ticks":false,"labelPadding":6,"labelFont":"DejaVu Serif","labelFontWeight":"bold","labelFontSize":11,"title":"Station","titlePadding":4}},"y":{"field":"depth","type":"quantitative","axis":{"orient":"right","values":[-5,-15,-25,-35,-45,-55],"labels":false,"ticks":true,"tickSize":6,"offset":9,"title":null}}}}
]},
{"width":360,"height":266,"resolve":{"axis":{"x":"independent","y":"independent"}},"layer":[
{"data":{"name":"bottom"},"mark":{"type":"line","color":"black","strokeWidth":1.2},"encoding":{"x":{"field":"lat","type":"quantitative","scale":{"domain":[53,54.5],"nice":false,"zero":false},"axis":{"orient":"bottom","values":[53,53.2,53.4,53.6,53.8,54,54.2,54.4],"format":".1f","title":"Latitude (°N)","tickSize":-4,"labelPadding":9,"titlePadding":1}},"y":{"field":"depth","type":"quantitative","scale":{"domain":[-55,3],"nice":false,"zero":false},"axis":{"orient":"left","values":[-5,-15,-25,-35,-45,-55],"format":".1f","ticks":false,"labelPadding":3,"title":"Depth (m)","titlePadding":6}},"order":{"field":"i","type":"quantitative"}}},
{"data":{"name":"contours"},"transform":[{"filter":"datum.panel === 'j'"}],"mark":{"type":"line","color":"black","strokeWidth":1,"interpolate":"catmull-rom"},"encoding":{"x":{"field":"lat","type":"quantitative","axis":null},"y":{"field":"depth","type":"quantitative","axis":null},"detail":{"field":"id"},"order":{"field":"i","type":"quantitative"}}},
{"data":{"name":"labels"},"transform":[{"filter":"datum.panel === 'j'"}],"mark":{"type":"text","font":"DejaVu Sans","fontSize":11,"fill":"white","stroke":"white","strokeWidth":5},"encoding":{"x":{"field":"lat","type":"quantitative","axis":null},"y":{"field":"depth","type":"quantitative","axis":null},"text":{"field":"text"}}},
{"data":{"name":"labels"},"transform":[{"filter":"datum.panel === 'j'"}],"mark":{"type":"text","font":"DejaVu Sans","fontSize":11,"color":"black"},"encoding":{"x":{"field":"lat","type":"quantitative","axis":null},"y":{"field":"depth","type":"quantitative","axis":null},"text":{"field":"text"}}},
{"data":{"name":"notes"},"transform":[{"filter":"datum.panel === 'j' && datum.kind === 'letter'"}],"mark":{"type":"text","font":"Liberation Sans","fontWeight":"bold","fontSize":32,"color":"black"},"encoding":{"x":{"field":"lat","type":"quantitative","axis":null},"y":{"field":"depth","type":"quantitative","axis":null},"text":{"field":"text"}}},
{"data":{"name":"notes"},"transform":[{"filter":"datum.panel === 'j' && datum.kind === 'caption'"}],"mark":{"type":"text","font":"DejaVu Serif","fontStyle":"italic","fontSize":13,"align":"left","color":"black"},"encoding":{"x":{"field":"lat","type":"quantitative","axis":null},"y":{"field":"depth","type":"quantitative","axis":null},"text":{"field":"text"}}},
{"data":{"name":"stations"},"mark":{"type":"circle","color":"black","opacity":1,"size":36},"encoding":{"x":{"field":"lat","type":"quantitative","axis":{"orient":"top","values":[53.06,53.285,53.52,53.78,53.98,54.23],"labelExpr":"datum.value < 53.1 ? '1' : datum.value < 53.4 ? '2' : datum.value < 53.65 ? '3' : datum.value < 53.9 ? '4' : datum.value < 54.1 ? '5' : '6'","ticks":false,"labelPadding":6,"labelFont":"DejaVu Serif","labelFontWeight":"bold","labelFontSize":11,"title":"Station","titlePadding":4}},"y":{"field":"depth","type":"quantitative","axis":{"orient":"right","values":[-5,-15,-25,-35,-45,-55],"format":".1f","ticks":false,"labelPadding":4,"title":null}}}}
]},
{"width":360,"height":266,"resolve":{"axis":{"x":"independent","y":"independent"}},"layer":[
{"data":{"name":"bottom"},"mark":{"type":"line","color":"black","strokeWidth":1.2},"encoding":{"x":{"field":"lat","type":"quantitative","scale":{"domain":[53,54.5],"nice":false,"zero":false},"axis":{"orient":"bottom","values":[53,53.2,53.4,53.6,53.8,54,54.2,54.4],"format":".1f","title":"Latitude (°N)","tickSize":-4,"labelPadding":9,"titlePadding":1}},"y":{"field":"depth","type":"quantitative","scale":{"domain":[-55,3],"nice":false,"zero":false},"axis":{"orient":"left","values":[-5,-15,-25,-35,-45,-55],"format":".1f","ticks":false,"labelPadding":3,"title":"Depth (m)","titlePadding":6}},"order":{"field":"i","type":"quantitative"}}},
{"data":{"name":"contours"},"transform":[{"filter":"datum.panel === 'h'"}],"mark":{"type":"line","color":"black","strokeWidth":1,"interpolate":"catmull-rom"},"encoding":{"x":{"field":"lat","type":"quantitative","axis":null},"y":{"field":"depth","type":"quantitative","axis":null},"detail":{"field":"id"},"order":{"field":"i","type":"quantitative"}}},
{"data":{"name":"labels"},"transform":[{"filter":"datum.panel === 'h'"}],"mark":{"type":"text","font":"DejaVu Sans","fontSize":11,"fill":"white","stroke":"white","strokeWidth":5},"encoding":{"x":{"field":"lat","type":"quantitative","axis":null},"y":{"field":"depth","type":"quantitative","axis":null},"text":{"field":"text"}}},
{"data":{"name":"labels"},"transform":[{"filter":"datum.panel === 'h'"}],"mark":{"type":"text","font":"DejaVu Sans","fontSize":11,"color":"black"},"encoding":{"x":{"field":"lat","type":"quantitative","axis":null},"y":{"field":"depth","type":"quantitative","axis":null},"text":{"field":"text"}}},
{"data":{"name":"notes"},"transform":[{"filter":"datum.panel === 'h' && datum.kind === 'letter'"}],"mark":{"type":"text","font":"Liberation Sans","fontWeight":"bold","fontSize":32,"color":"black"},"encoding":{"x":{"field":"lat","type":"quantitative","axis":null},"y":{"field":"depth","type":"quantitative","axis":null},"text":{"field":"text"}}},
{"data":{"name":"notes"},"transform":[{"filter":"datum.panel === 'h' && datum.kind === 'caption'"}],"mark":{"type":"text","font":"DejaVu Serif","fontStyle":"italic","fontSize":13,"align":"left","color":"black"},"encoding":{"x":{"field":"lat","type":"quantitative","axis":null},"y":{"field":"depth","type":"quantitative","axis":null},"text":{"field":"text"}}},
{"data":{"name":"stations"},"mark":{"type":"circle","color":"black","opacity":1,"size":36},"encoding":{"x":{"field":"lat","type":"quantitative","axis":{"orient":"top","values":[53.06,53.285,53.52,53.78,53.98,54.23],"labelExpr":"datum.value < 53.1 ? '1' : datum.value < 53.4 ? '2' : datum.value < 53.65 ? '3' : datum.value < 53.9 ? '4' : datum.value < 54.1 ? '5' : '6'","ticks":false,"labelPadding":6,"labelFont":"DejaVu Serif","labelFontWeight":"bold","labelFontSize":11,"title":"Station","titlePadding":4}},"y":{"field":"depth","type":"quantitative","axis":{"orient":"right","values":[-5,-15,-25,-35,-45,-55],"labels":false,"ticks":true,"tickSize":6,"offset":9,"title":null}}}}
]},
{"width":360,"height":266,"resolve":{"axis":{"x":"independent","y":"independent"}},"layer":[
{"data":{"name":"bottom"},"mark":{"type":"line","color":"black","strokeWidth":1.2},"encoding":{"x":{"field":"lat","type":"quantitative","scale":{"domain":[53,54.5],"nice":false,"zero":false},"axis":{"orient":"bottom","values":[53,53.2,53.4,53.6,53.8,54,54.2,54.4],"format":".1f","title":"Latitude (°N)","tickSize":-4,"labelPadding":9,"titlePadding":1}},"y":{"field":"depth","type":"quantitative","scale":{"domain":[-55,3],"nice":false,"zero":false},"axis":{"orient":"left","values":[-5,-15,-25,-35,-45,-55],"format":".1f","ticks":false,"labelPadding":3,"title":"Depth (m)","titlePadding":6}},"order":{"field":"i","type":"quantitative"}}},
{"data":{"name":"contours"},"transform":[{"filter":"datum.panel === 'k'"}],"mark":{"type":"line","color":"black","strokeWidth":1,"interpolate":"catmull-rom"},"encoding":{"x":{"field":"lat","type":"quantitative","axis":null},"y":{"field":"depth","type":"quantitative","axis":null},"detail":{"field":"id"},"order":{"field":"i","type":"quantitative"}}},
{"data":{"name":"labels"},"transform":[{"filter":"datum.panel === 'k'"}],"mark":{"type":"text","font":"DejaVu Sans","fontSize":11,"fill":"white","stroke":"white","strokeWidth":5},"encoding":{"x":{"field":"lat","type":"quantitative","axis":null},"y":{"field":"depth","type":"quantitative","axis":null},"text":{"field":"text"}}},
{"data":{"name":"labels"},"transform":[{"filter":"datum.panel === 'k'"}],"mark":{"type":"text","font":"DejaVu Sans","fontSize":11,"color":"black"},"encoding":{"x":{"field":"lat","type":"quantitative","axis":null},"y":{"field":"depth","type":"quantitative","axis":null},"text":{"field":"text"}}},
{"data":{"name":"notes"},"transform":[{"filter":"datum.panel === 'k' && datum.kind === 'letter'"}],"mark":{"type":"text","font":"Liberation Sans","fontWeight":"bold","fontSize":32,"color":"black"},"encoding":{"x":{"field":"lat","type":"quantitative","axis":null},"y":{"field":"depth","type":"quantitative","axis":null},"text":{"field":"text"}}},
{"data":{"name":"notes"},"transform":[{"filter":"datum.panel === 'k' && datum.kind === 'caption'"}],"mark":{"type":"text","font":"DejaVu Serif","fontStyle":"italic","fontSize":13,"align":"left","color":"black"},"encoding":{"x":{"field":"lat","type":"quantitative","axis":null},"y":{"field":"depth","type":"quantitative","axis":null},"text":{"field":"text"}}},
{"data":{"name":"stations"},"mark":{"type":"circle","color":"black","opacity":1,"size":36},"encoding":{"x":{"field":"lat","type":"quantitative","axis":{"orient":"top","values":[53.06,53.285,53.52,53.78,53.98,54.23],"labelExpr":"datum.value < 53.1 ? '1' : datum.value < 53.4 ? '2' : datum.value < 53.65 ? '3' : datum.value < 53.9 ? '4' : datum.value < 54.1 ? '5' : '6'","ticks":false,"labelPadding":6,"labelFont":"DejaVu Serif","labelFontWeight":"bold","labelFontSize":11,"title":"Station","titlePadding":4}},"y":{"field":"depth","type":"quantitative","axis":{"orient":"right","values":[-5,-15,-25,-35,-45,-55],"format":".1f","ticks":false,"labelPadding":4,"title":null}}}}
]},
{"width":360,"height":266,"resolve":{"axis":{"x":"independent","y":"independent"}},"layer":[
{"data":{"name":"bottom"},"mark":{"type":"line","color":"black","strokeWidth":1.2},"encoding":{"x":{"field":"lat","type":"quantitative","scale":{"domain":[53,54.5],"nice":false,"zero":false},"axis":{"orient":"bottom","values":[53,53.2,53.4,53.6,53.8,54,54.2,54.4],"format":".1f","title":"Latitude (°N)","tickSize":-4,"labelPadding":9,"titlePadding":1}},"y":{"field":"depth","type":"quantitative","scale":{"domain":[-55,3],"nice":false,"zero":false},"axis":{"orient":"left","values":[-5,-15,-25,-35,-45,-55],"format":".1f","ticks":false,"labelPadding":3,"title":"Depth (m)","titlePadding":6}},"order":{"field":"i","type":"quantitative"}}},
{"data":{"name":"contours"},"transform":[{"filter":"datum.panel === 'i'"}],"mark":{"type":"line","color":"black","strokeWidth":1,"interpolate":"catmull-rom"},"encoding":{"x":{"field":"lat","type":"quantitative","axis":null},"y":{"field":"depth","type":"quantitative","axis":null},"detail":{"field":"id"},"order":{"field":"i","type":"quantitative"}}},
{"data":{"name":"labels"},"transform":[{"filter":"datum.panel === 'i'"}],"mark":{"type":"text","font":"DejaVu Sans","fontSize":11,"fill":"white","stroke":"white","strokeWidth":5},"encoding":{"x":{"field":"lat","type":"quantitative","axis":null},"y":{"field":"depth","type":"quantitative","axis":null},"text":{"field":"text"}}},
{"data":{"name":"labels"},"transform":[{"filter":"datum.panel === 'i'"}],"mark":{"type":"text","font":"DejaVu Sans","fontSize":11,"color":"black"},"encoding":{"x":{"field":"lat","type":"quantitative","axis":null},"y":{"field":"depth","type":"quantitative","axis":null},"text":{"field":"text"}}},
{"data":{"name":"notes"},"transform":[{"filter":"datum.panel === 'i' && datum.kind === 'letter'"}],"mark":{"type":"text","font":"Liberation Sans","fontWeight":"bold","fontSize":32,"color":"black"},"encoding":{"x":{"field":"lat","type":"quantitative","axis":null},"y":{"field":"depth","type":"quantitative","axis":null},"text":{"field":"text"}}},
{"data":{"name":"notes"},"transform":[{"filter":"datum.panel === 'i' && datum.kind === 'caption'"}],"mark":{"type":"text","font":"DejaVu Serif","fontStyle":"italic","fontSize":13,"align":"left","color":"black"},"encoding":{"x":{"field":"lat","type":"quantitative","axis":null},"y":{"field":"depth","type":"quantitative","axis":null},"text":{"field":"text"}}},
{"data":{"name":"stations"},"mark":{"type":"circle","color":"black","opacity":1,"size":36},"encoding":{"x":{"field":"lat","type":"quantitative","axis":{"orient":"top","values":[53.06,53.285,53.52,53.78,53.98,54.23],"labelExpr":"datum.value < 53.1 ? '1' : datum.value < 53.4 ? '2' : datum.value < 53.65 ? '3' : datum.value < 53.9 ? '4' : datum.value < 54.1 ? '5' : '6'","ticks":false,"labelPadding":6,"labelFont":"DejaVu Serif","labelFontWeight":"bold","labelFontSize":11,"title":"Station","titlePadding":4}},"y":{"field":"depth","type":"quantitative","axis":{"orient":"right","values":[-5,-15,-25,-35,-45,-55],"labels":false,"ticks":true,"tickSize":6,"offset":9,"title":null}}}}
]},
{"width":360,"height":266,"resolve":{"axis":{"x":"independent","y":"independent"}},"layer":[
{"data":{"name":"bottom"},"mark":{"type":"line","color":"black","strokeWidth":1.2},"encoding":{"x":{"field":"lat","type":"quantitative","scale":{"domain":[53,54.5],"nice":false,"zero":false},"axis":{"orient":"bottom","values":[53,53.2,53.4,53.6,53.8,54,54.2,54.4],"format":".1f","title":"Latitude (°N)","tickSize":-4,"labelPadding":9,"titlePadding":1}},"y":{"field":"depth","type":"quantitative","scale":{"domain":[-55,3],"nice":false,"zero":false},"axis":{"orient":"left","values":[-5,-15,-25,-35,-45,-55],"format":".1f","ticks":false,"labelPadding":3,"title":"Depth (m)","titlePadding":6}},"order":{"field":"i","type":"quantitative"}}},
{"data":{"name":"contours"},"transform":[{"filter":"datum.panel === 'l'"}],"mark":{"type":"line","color":"black","strokeWidth":1,"interpolate":"catmull-rom"},"encoding":{"x":{"field":"lat","type":"quantitative","axis":null},"y":{"field":"depth","type":"quantitative","axis":null},"detail":{"field":"id"},"order":{"field":"i","type":"quantitative"}}},
{"data":{"name":"labels"},"transform":[{"filter":"datum.panel === 'l'"}],"mark":{"type":"text","font":"DejaVu Sans","fontSize":11,"fill":"white","stroke":"white","strokeWidth":5},"encoding":{"x":{"field":"lat","type":"quantitative","axis":null},"y":{"field":"depth","type":"quantitative","axis":null},"text":{"field":"text"}}},
{"data":{"name":"labels"},"transform":[{"filter":"datum.panel === 'l'"}],"mark":{"type":"text","font":"DejaVu Sans","fontSize":11,"color":"black"},"encoding":{"x":{"field":"lat","type":"quantitative","axis":null},"y":{"field":"depth","type":"quantitative","axis":null},"text":{"field":"text"}}},
{"data":{"name":"notes"},"transform":[{"filter":"datum.panel === 'l' && datum.kind === 'letter'"}],"mark":{"type":"text","font":"Liberation Sans","fontWeight":"bold","fontSize":32,"color":"black"},"encoding":{"x":{"field":"lat","type":"quantitative","axis":null},"y":{"field":"depth","type":"quantitative","axis":null},"text":{"field":"text"}}},
{"data":{"name":"notes"},"transform":[{"filter":"datum.panel === 'l' && datum.kind === 'caption'"}],"mark":{"type":"text","font":"DejaVu Serif","fontStyle":"italic","fontSize":13,"align":"left","color":"black"},"encoding":{"x":{"field":"lat","type":"quantitative","axis":null},"y":{"field":"depth","type":"quantitative","axis":null},"text":{"field":"text"}}},
{"data":{"name":"stations"},"mark":{"type":"circle","color":"black","opacity":1,"size":36},"encoding":{"x":{"field":"lat","type":"quantitative","axis":{"orient":"top","values":[53.06,53.285,53.52,53.78,53.98,54.23],"labelExpr":"datum.value < 53.1 ? '1' : datum.value < 53.4 ? '2' : datum.value < 53.65 ? '3' : datum.value < 53.9 ? '4' : datum.value < 54.1 ? '5' : '6'","ticks":false,"labelPadding":6,"labelFont":"DejaVu Serif","labelFontWeight":"bold","labelFontSize":11,"title":"Station","titlePadding":4}},"y":{"field":"depth","type":"quantitative","axis":{"orient":"right","values":[-5,-15,-25,-35,-45,-55],"format":".1f","ticks":false,"labelPadding":4,"title":null}}}}
]}
],
"config": {
"view": {"stroke": "black", "strokeWidth": 1.5},
"axis": {"grid": false, "domain": false, "labelFlush": false, "labelOverlap": false, "labelFont": "DejaVu Sans", "labelFontSize": 12.5, "labelColor": "black", "titleFont": "DejaVu Serif", "titleFontWeight": "bold", "titleFontSize": 12, "titleColor": "black", "tickColor": "black"}
}
}
